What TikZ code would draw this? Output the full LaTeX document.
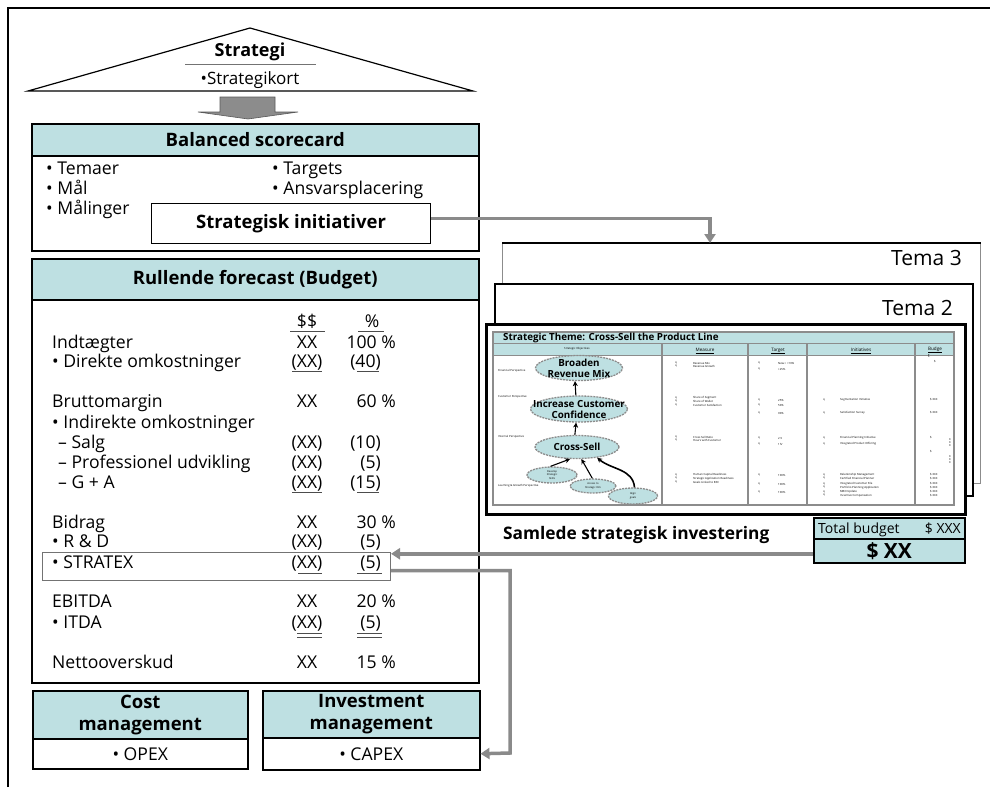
\documentclass[tikz,border=0pt]{standalone}
\usepackage{fontspec}
\setmainfont{Open Sans}
\usetikzlibrary{arrows.meta,shapes.geometric,calc}
\definecolor{tealbg}{RGB}{190,224,226}
\definecolor{linkgray}{RGB}{138,138,138}
\newcommand{\myfs}[2]{\fontsize{#1}{#2}\selectfont}
\begin{document}
\begin{tikzpicture}[x=1pt,y=-1pt,
  hdr/.style={draw=black, line width=1.5pt, fill=tealbg, inner sep=0, font=\bfseries\myfs{18.5}{22}, align=center},
  plainbox/.style={draw=black, line width=1.5pt, fill=white, inner sep=0},
  txt/.style={inner sep=0, anchor=base west, font=\myfs{17.6}{20}},
  num/.style={inner sep=0, anchor=base, font=\myfs{17.6}{20}},
  pct/.style={inner sep=0, anchor=base east, font=\myfs{17.6}{20}},
  uline/.style={draw=black!70, line width=0.8pt},
  link/.style={draw=linkgray, line width=3.5pt, -{Triangle[length=9pt,width=11pt]}},
  ell/.style={ellipse, fill=tealbg, draw=black!45, line width=1.3pt, dash pattern=on 2pt off 1pt, inner sep=0},
  elltxt/.style={inner sep=0, align=center, font=\bfseries\myfs{9.8}{11}},
  elltiny/.style={inner sep=0, align=center, font=\myfs{2.6}{3.4}},
  objarr/.style={draw=black, line width=1.1pt, -{Stealth[length=5pt,width=5pt]}},
  tiny/.style={inner sep=0, anchor=west, font=\myfs{2.8}{3.2}},
  card/.style={fill=white, inner sep=0, anchor=north west},
]
\useasboundingbox (0,0) rectangle (990,787);
% outer frame
\draw[line width=2pt] (8,787) -- (8,8) -- (990,8);

% house
\draw[line width=1.2pt, line join=miter] (28,91) -- (250,28) -- (473,91) -- cycle;
\node[inner sep=0, anchor=base, font=\bfseries\myfs{18}{20}] (strat) at (250,56) {Strategi};
\draw[black!55, line width=0.8pt] (185,64) -- (316,64);
\node[inner sep=0, anchor=base, font=\myfs{17}{20}] (stratkort) at (250,84) {•Strategikort};

% block arrow
\filldraw[fill=black!45, draw=black!65, line width=0.6pt] (220,97) -- (275,97) -- (275,112) -- (298,112) -- (248,119) -- (198,112) -- (220,112) -- cycle;

% balanced scorecard
\node[hdr, minimum width=447, minimum height=32, anchor=north west] (bsch) at (31,123) {Balanced scorecard};
\node[plainbox, minimum width=447, minimum height=95, anchor=north west] (bscb) at (31,155) {};
\node[txt] (temaer) at (46,174) {• Temaer};
\node[txt] (maal) at (46,194) {• Mål};
\node[txt] (maalinger) at (46,214) {• Målinger};
\node[txt] (targets) at (272,174) {• Targets};
\node[txt] (ansvar) at (272,194) {• Ansvarsplacering};
\node[draw=black, line width=1.2pt, fill=white, minimum width=279, minimum height=40, anchor=north west, inner sep=0, font=\bfseries\myfs{18.5}{22}] (init) at (151,203) {Strategisk initiativer};

% rullende forecast
\node[hdr, minimum width=447, minimum height=41, anchor=north west] (rfh) at (31,258) {Rullende forecast (Budget)};
\node[plainbox, minimum width=447, minimum height=383, anchor=north west] (rfb) at (31,299) {};
\node[draw=black!55, line width=1pt, minimum width=348, minimum height=28, anchor=north west, inner sep=0] (stratex) at (42,552) {};

\node[num] (hdd) at (307,327) {\$\$};
\node[num] (hdp) at (372,327) {\%};
\draw[uline] (290,331) -- (325,331);
\draw[uline] (358,331) -- (384,331);

\node[txt] (r1) at (52,348) {Indtægter};
\node[num] (r1a) at (307,348) {XX};
\node[pct] (r1b) at (396,348) {100 \%};
\node[txt] (r2) at (52,367.5) {• Direkte omkostninger};
\node[num] (r2a) at (307,367.5) {(XX)};
\node[pct] (r2b) at (381,367.5) {(40)};
\draw[uline] (292,371.5) -- (322,371.5);
\draw[uline] (357,371.5) -- (379,371.5);

\node[txt] (r3) at (52,407.5) {Bruttomargin};
\node[num] (r3a) at (307,407.5) {XX};
\node[pct] (r3b) at (396,407.5) {60 \%};
\node[txt] (r4) at (52,428.5) {• Indirekte omkostninger};
\node[txt] (r5) at (58,448.5) {– Salg};
\node[num] (r5a) at (307,448.5) {(XX)};
\node[pct] (r5b) at (381,448.5) {(10)};
\node[txt] (r6) at (58,468.5) {– Professionel udvikling};
\node[num] (r6a) at (307,468.5) {(XX)};
\node[pct] (r6b) at (381,468.5) {(5)};
\node[txt] (r7) at (58,488.5) {– G + A};
\node[num] (r7a) at (307,488.5) {(XX)};
\node[pct] (r7b) at (381,488.5) {(15)};
\draw[uline] (292,492.5) -- (322,492.5);
\draw[uline] (357,492.5) -- (379,492.5);

\node[txt] (r8) at (52,528.5) {Bidrag};
\node[num] (r8a) at (307,528.5) {XX};
\node[pct] (r8b) at (396,528.5) {30 \%};
\node[txt] (r9) at (52,547.5) {• R \& D};
\node[num] (r9a) at (307,547.5) {(XX)};
\node[pct] (r9b) at (381,547.5) {(5)};
\node[txt] (r10) at (52,568.5) {• STRATEX};
\node[num] (r10a) at (307,568.5) {(XX)};
\node[pct] (r10b) at (381,568.5) {(5)};
\draw[uline] (298,573) -- (322,573);
\draw[uline] (357,573) -- (382,573);

\node[txt] (r11) at (52,607.5) {EBITDA};
\node[num] (r11a) at (307,607.5) {XX};
\node[pct] (r11b) at (396,607.5) {20 \%};
\node[txt] (r12) at (52,628.5) {• ITDA};
\node[num] (r12a) at (307,628.5) {(XX)};
\node[pct] (r12b) at (381,628.5) {(5)};
\draw[uline] (297,633) -- (322,633);
\draw[uline] (297,637.5) -- (322,637.5);
\draw[uline] (357,633) -- (382,633);
\draw[uline] (357,637.5) -- (382,637.5);

\node[txt] (r13) at (52,668.5) {Nettooverskud};
\node[num] (r13a) at (307,668.5) {XX};
\node[pct] (r13b) at (396,668.5) {15 \%};

% cost / investment management
\node[hdr, minimum width=215, minimum height=48, anchor=north west] (costh) at (32,690) {Cost\\management};
\node[plainbox, minimum width=215, minimum height=30, anchor=north west, font=\myfs{17.6}{20}] (opex) at (32,738) {• OPEX};
\node[hdr, minimum width=217, minimum height=47, anchor=north west] (invh) at (262,690) {Investment\\management};
\node[plainbox, minimum width=217, minimum height=32, anchor=north west, font=\myfs{17.6}{20}] (capex) at (262,737) {• CAPEX};

% theme cards
\node[card, draw=black!45, line width=1pt, minimum width=478, minimum height=240] (tema3) at (502,243) {};
\draw[line width=2pt] (tema3.north west) -- (tema3.north east);
\node[inner sep=0, anchor=base east, font=\myfs{21}{24}] (tema3t) at (962,265) {Tema 3};
\node[card, draw=black, line width=2pt, minimum width=478, minimum height=212] (tema2) at (494,283) {};
\node[inner sep=0, anchor=base east, font=\myfs{21}{24}] (tema2t) at (953,315) {Tema 2};
\node[card, draw=black, line width=2.5pt, minimum width=479, minimum height=190] (front) at (485,323) {};

% strategic theme table
\fill[tealbg] (493,332) rectangle (954,343);
\fill[tealbg] (493,344) rectangle (954,355);
\draw[black!45, line width=1.2pt] (493,332) rectangle (954,505);
\draw[black!45, line width=0.8pt] (493,343.5) -- (954,343.5);
\draw[black!45, line width=0.8pt] (493,355) -- (954,355);
\foreach \cx in {662,748,807,915} {\draw[black!45, line width=1.2pt] (\cx,343.5) -- (\cx,505);}
\node[inner sep=0, anchor=west, font=\bfseries\myfs{9.8}{10}] (thtitle) at (503,338) {Strategic Theme: Cross-Sell the Product Line};
\node[inner sep=0, font=\myfs{2.8}{3}] (hobj) at (577,349) {Strategic Objectives};
\node[inner sep=0, font=\myfs{4.6}{5}] (hmeas) at (705,351) {\underline{Measure}};
\node[inner sep=0, font=\myfs{4.6}{5}] (htarg) at (778,351) {\underline{Target}};
\node[inner sep=0, font=\myfs{4.6}{5}] (hinit) at (861,351) {\underline{Initiatives}};
\node[inner sep=0, align=left, font=\myfs{4.6}{4.2}] (hbud) at (935,352) {\underline{Budge}\\t};

% perspective labels
\node[tiny] (pfin) at (498,371) {Financial Perspective};
\node[tiny] (pcus) at (498,397) {Customer Perspective};
\node[tiny] (pint) at (498,437) {Internal Perspective};
\node[tiny] (plg) at (498,486) {Learning \& Growth Perspective};

% ellipses
\node[ell, minimum width=87, minimum height=25] (broad) at (579,368) {};
\node[elltxt] at (broad) {Broaden\\Revenue Mix};
\node[ell, minimum width=97, minimum height=26] (incr) at (579,409) {};
\node[elltxt] at (incr) {Increase Customer\\Confidence};
\node[ell, minimum width=84, minimum height=23] (cross) at (577,447) {};
\node[elltxt] at (cross) {Cross-Sell};
\node[ell, minimum width=50, minimum height=16] (dev) at (552,475) {};
\node[elltiny] at (dev) {Develop\\Strategic\\Skills};
\node[ell, minimum width=46, minimum height=14] (access) at (593,486) {};
\node[elltiny] at (access) {Access to\\Strategic Info};
\node[ell, minimum width=49, minimum height=16] (align) at (633,496) {};
\node[elltiny] at (align) {Align\\goals};
\draw[objarr] (incr.103) -- (broad.253);
\draw[objarr] (cross.100) -- (incr.258);
\draw[objarr] (dev.100) -- (cross.240);
\draw[objarr] (access.95) -- (cross.290);
\draw[objarr, line width=1.6pt] (align.80) to[out=95, in=-40] (cross.-28);

% measure column
\foreach \yy/\tt in {363/Revenue Mix, 366.5/Revenue Growth, 398/Share of Segment, 401.5/Share of Wallet, 405/Customer Satisfaction, 437/Cross Sell Ratio, 440.5/Hours with Customer, 475/Human Capital Readiness, 478.5/Strategic Application Readiness, 482/Goals Linked to BSC}
  {\node[tiny] at (675,\yy) {q}; \node[tiny] at (693,\yy) {\tt};}
% target column
\foreach \yy/\tt in {363/New > =10\%, 369/+25\%, 400/25\%, 405/50\%, 413/90\%, 438/2.5, 444/1hr/Q, 475/100\%, 484/100\%, 492/100\%}
  {\node[tiny] at (758,\yy) {q}; \node[tiny] at (778,\yy) {\tt};}
% initiatives column
\foreach \yy/\tt in {400/Segmentation Initiative, 413/Satisfaction Survey, 438/Financial Planning Initiative, 444/Integrated Product Offering, 475/Relationship Management, 478.5/Certified Financial Planner, 484/Integrated Customer File, 487.5/Portfolio Planning Application, 492/MBO Update, 495.5/Incentive Compensation}
  {\node[tiny] at (823,\yy) {q}; \node[tiny] at (840,\yy) {\tt};}
% budget column
\foreach \yy/\tt in {400/\$ XXX, 413/\$ XXX, 438/\$, 452/\$, 475/\$ XXX, 478.5/\$ XXX, 484/\$ XXX, 487.5/\$ XXX, 492/\$ XXX, 495.5/\$ XXX}
  {\node[tiny] at (930,\yy) {\tt};}
\node[inner sep=0, align=center, font=\myfs{2.8}{3}] at (950,442) {X\\X\\X};
\node[inner sep=0, align=center, font=\myfs{2.8}{3}] at (950,459) {X\\X\\X};
\node[tiny] at (934,362) {\$};

% total strategic investment
\node[inner sep=0, anchor=base west, font=\bfseries\myfs{17.3}{20}] (samlede) at (503,539) {Samlede strategisk investering};
\node[draw=black, line width=1.5pt, fill=tealbg, minimum width=151, minimum height=21, anchor=north west, inner sep=0] (tbtop) at (813,517) {};
\node[inner sep=0, anchor=base west, font=\myfs{14}{16}] (tbl) at (818,533) {Total budget};
\node[inner sep=0, anchor=base east, font=\myfs{14}{16}] (tbr) at (961,533) {\$ XXX};
\node[draw=black, line width=1.5pt, fill=tealbg, minimum width=151, minimum height=24, anchor=north west, inner sep=0, font=\bfseries\myfs{21}{24}] (tbxx) at (813,538) {\$ XX};

% connectors
\coordinate (t3top) at (710,243);
\draw[link] ([yshift=5pt]init.east) -| (t3top);
\draw[link] ([yshift=-3pt]tbxx.west) -- ([yshift=-3pt]tbxx.west -| stratex.east);
\coordinate (bend) at (510,753);
\draw[link] ([yshift=-4pt]stratex.east) -| (bend) -- (capex.east);
\end{tikzpicture}
\end{document}
